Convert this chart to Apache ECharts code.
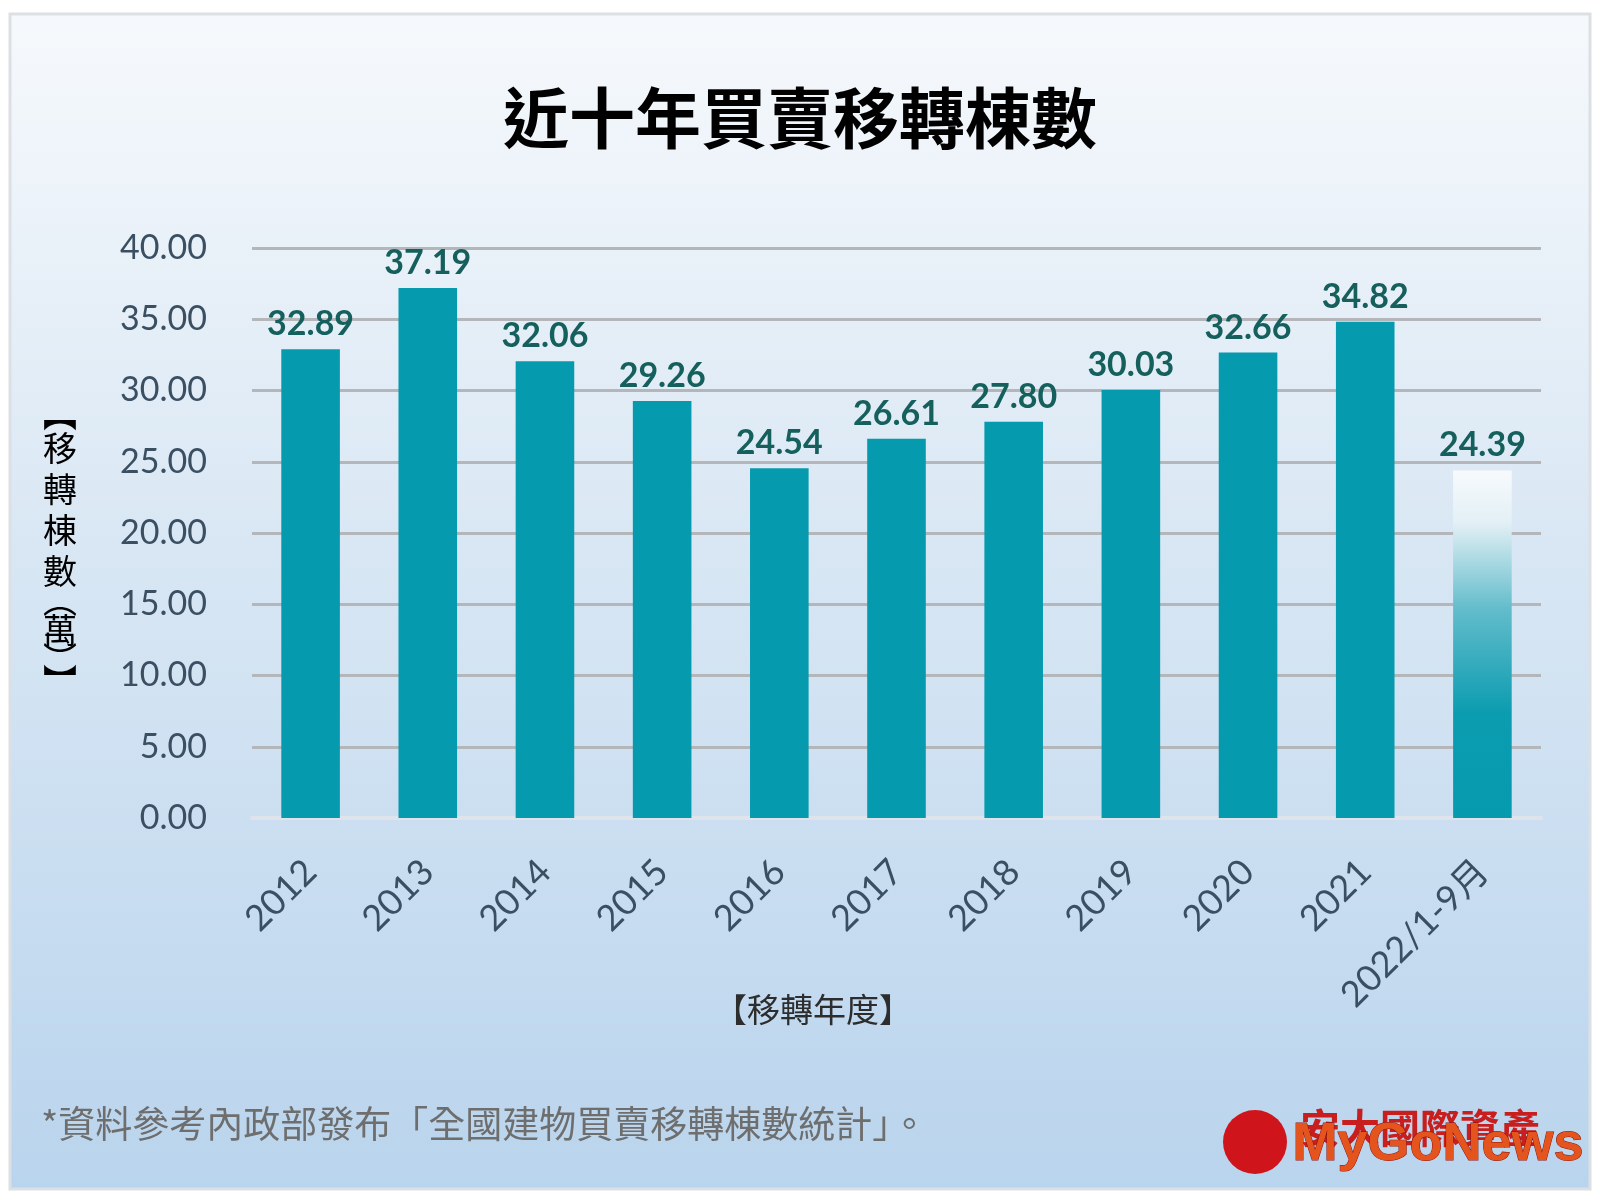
<!DOCTYPE html>
<html>
<head>
<meta charset="utf-8">
<script src="https://cdn.jsdelivr.net/npm/echarts@6/dist/echarts.min.js"></script>
<style>
html,body{margin:0;padding:0;background:#fff;}
#c{width:1600px;height:1200px;}
</style>
</head>
<body>
<div id="c"></div>
<script>
const categories = ['2012','2013','2014','2015','2016','2017','2018','2019','2020','2021','2022/1-9月'];
const transfers = [32.89, 37.19, 32.06, 29.26, 24.54, 26.61, 27.80, 30.03, 32.66, 34.82, 24.39];
const titleText = '近十年買賣移轉棟數';
const yNameLines = [['b','︻'],['c','移'],['c','轉'],['c','棟'],['c','數'],['p','︵'],['c','萬'],['p','︶'],['b','︼']];
const xName = '【移轉年度】';
const footnote = '*資料參考內政部發布「全國建物買賣移轉棟數統計」。';

const barColor = '#069aae';
const lastIdx = transfers.length - 1;
const seriesData = transfers.map((v, i) => {
  if (i === lastIdx) {
    return {
      value: v,
      itemStyle: {
        color: new echarts.graphic.LinearGradient(0, 0, 0, 1, [
          {offset: 0, color: '#f7fafd'},
          {offset: 0.15, color: '#e3f0f5'},
          {offset: 0.4, color: '#62bccb'},
          {offset: 0.7, color: '#0b9cb0'},
          {offset: 1, color: barColor}
        ])
      }
    };
  }
  return v;
});

const nameFont = {fontFamily: '"Noto Sans CJK TC"', fontSize: 34, color: '#333', align: 'center'};

const chart = echarts.init(document.getElementById('c'));
chart.setOption({
  animation: false,
  backgroundColor: '#ffffff',
  graphic: [
    {
      type: 'rect', z: -10,
      shape: {x: 10, y: 14, width: 1580, height: 1175},
      style: {
        fill: new echarts.graphic.LinearGradient(0, 0, 0, 1, [
          {offset: 0, color: '#f6f9fc'},
          {offset: 0.45, color: '#d9e7f4'},
          {offset: 1, color: '#b9d4ed'}
        ]),
        stroke: '#dcdfe3', lineWidth: 3
      }
    },
    {
      type: 'text', x: 60, y: 548,
      style: {
        text: yNameLines.map(l => '{' + l[0] + '|' + l[1] + '}').join('\n'),
        align: 'center', verticalAlign: 'middle',
        rich: {
          b: Object.assign({}, nameFont, {lineHeight: 26, height: 26}),
          c: Object.assign({}, nameFont, {lineHeight: 41, height: 41}),
          p: Object.assign({}, nameFont, {lineHeight: 18, height: 18})
        }
      }
    },
    {
      type: 'text', left: 41, top: 1105,
      style: {text: footnote, font: '37px "Noto Sans CJK TC"', fill: '#6e6e6e'}
    },
    {
      type: 'text', left: 714, top: 993,
      style: {text: xName, font: '33px "Noto Sans CJK TC"', fill: '#2d2d2d'}
    },
    {
      type: 'circle', shape: {cx: 1255, cy: 1142, r: 32},
      style: {fill: '#d0141c'}
    },
    {
      type: 'text', left: 1300, top: 1108,
      style: {text: '安大國際資產', font: 'bold 40px "Noto Sans CJK TC"', fill: '#c81e1e'}
    },
    {
      type: 'text', left: 1292, top: 1118,
      style: {text: 'MyGoNews', font: 'bold 54px "Liberation Sans Narrow", "Liberation Sans"', fill: '#e4541c', stroke: '#8a1010', lineWidth: 1}
    }
  ],
  title: {
    text: titleText,
    left: 'center', top: 80,
    textStyle: {fontFamily: '"Noto Sans CJK TC"', fontWeight: 'bold', fontSize: 66, color: '#000'}
  },
  grid: {left: 252, right: 59, top: 248, bottom: 382, containLabel: false, outerBoundsMode: 'none'},
  xAxis: {
    type: 'category',
    data: categories,
    axisLine: {show: true, lineStyle: {color: '#dfe4ec', width: 4}},
    axisTick: {show: false},
    axisLabel: {
      rotate: 45, margin: 48, interval: 0,
      fontFamily: 'Lato, "Noto Sans CJK TC"', fontSize: 36, color: '#3b4f63'
    }
  },
  yAxis: {
    type: 'value',
    min: 0, max: 40, interval: 5,
    axisLine: {show: false},
    axisTick: {show: false},
    axisLabel: {
      margin: 45,
      formatter: v => v.toFixed(2),
      fontFamily: 'Lato', fontSize: 34, color: '#3b4f63'
    },
    splitLine: {lineStyle: {color: '#b4b6ba', width: 3}}
  },
  series: [{
    type: 'bar',
    data: seriesData,
    barWidth: '50%',
    itemStyle: {color: barColor},
    label: {
      show: true, position: 'top', distance: 8,
      formatter: p => p.value.toFixed(2),
      fontFamily: 'Lato', fontWeight: 'bold', fontSize: 34, color: '#155f5c'
    }
  }]
});
</script>
</body>
</html>
